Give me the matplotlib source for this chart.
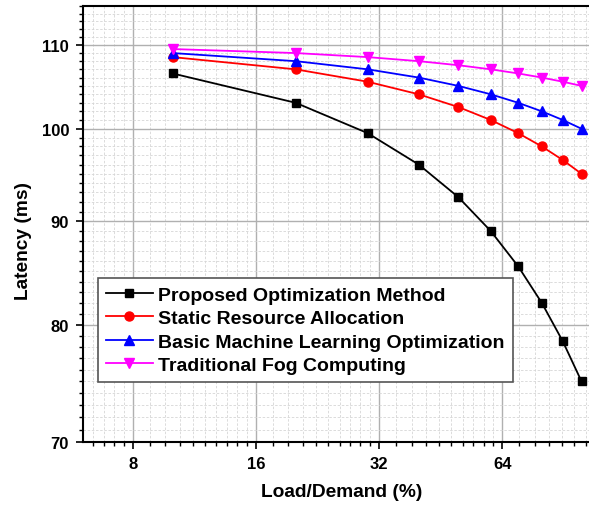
import numpy as np
import matplotlib
matplotlib.use('Agg')
import matplotlib.pyplot as plt
from matplotlib.ticker import FixedLocator, LogLocator, NullFormatter, FixedFormatter

# data
load = [10, 20, 30, 40, 50, 60, 70, 80, 90, 100]
proposed = [106.5, 103, 99.5, 96, 92.5, 89, 85.5, 82, 78.5, 75]
static_alloc = [108.5, 107, 105.5, 104, 102.5, 101, 99.5, 98, 96.5, 95]
basic_ml = [109, 108, 107, 106, 105, 104, 103, 102, 101, 100]
traditional = [109.5, 109, 108.5, 108, 107.5, 107, 106.5, 106, 105.5, 105]

names = ['Proposed Optimization Method', 'Static Resource Allocation',
         'Basic Machine Learning Optimization', 'Traditional Fog Computing']
x_ticks = [8, 16, 32, 64]
y_ticks = [70, 80, 90, 100, 110]

plt.rcParams['font.family'] = ['Liberation Sans', 'DejaVu Sans']
plt.rcParams['font.weight'] = 'bold'

fig = plt.figure(figsize=(5.89, 5.10), dpi=100)
ax = fig.add_axes([83 / 589, 1 - 443 / 510, (589 - 83) / 589, (443 - 7) / 510])

ax.plot(load, proposed, color='black', marker='s', ms=6, lw=1.3, label=names[0])
ax.plot(load, static_alloc, color='red', marker='o', ms=6.5, lw=1.3, label=names[1])
ax.plot(load, basic_ml, color='blue', marker='^', ms=7, lw=1.3, label=names[2])
ax.plot(load, traditional, color='magenta', marker='v', ms=7, lw=1.3, label=names[3])

# axes scales
ax.set_xscale('log', base=2)
ax.set_yscale('log')
ax.set_xlim(6.04, 104.3)
ax.set_ylim(70, 115)

ax.xaxis.set_major_locator(FixedLocator(x_ticks))
ax.xaxis.set_major_formatter(FixedFormatter([str(t) for t in x_ticks]))
ax.xaxis.set_minor_locator(LogLocator(base=2, subs=np.arange(1.1, 2.0, 0.1), numticks=50))
ax.xaxis.set_minor_formatter(NullFormatter())

ax.yaxis.set_major_locator(FixedLocator(y_ticks))
ax.yaxis.set_major_formatter(FixedFormatter([str(t) for t in y_ticks]))
ax.yaxis.set_minor_locator(FixedLocator(np.arange(70, 116)))
ax.yaxis.set_minor_formatter(NullFormatter())

# grid
ax.grid(which='major', color='#b0b0b0', lw=1.0)
ax.grid(which='minor', color='#d6d6d6', lw=0.6, ls=(0, (3, 2)))
ax.set_axisbelow(True)

# spines and ticks
ax.spines['right'].set_visible(False)
for s in ['left', 'bottom', 'top']:
    ax.spines[s].set_linewidth(1.5)
ax.tick_params(which='major', direction='out', length=5, width=1.2, labelsize=12, pad=5)
ax.tick_params(which='minor', direction='out', length=2.8, width=1.0)
ax.tick_params(top=False, right=False, which='both')

ax.set_xlabel('Load/Demand (%)', fontsize=13.8, fontweight='bold')
ax.set_ylabel('Latency (ms)', fontsize=13.8, fontweight='bold')
ax.xaxis.set_label_coords(0.512, -0.095)
ax.yaxis.set_label_coords(-0.1, 0.463)

leg = ax.legend(loc='lower left', bbox_to_anchor=(0.03, 0.138), borderaxespad=0,
                fontsize=14, handlelength=2.4, handletextpad=0.3, labelspacing=0.3,
                borderpad=0.4, fancybox=False, framealpha=1, edgecolor='#555555')
leg.get_frame().set_linewidth(1.2)

plt.savefig('out.png', dpi=100)
